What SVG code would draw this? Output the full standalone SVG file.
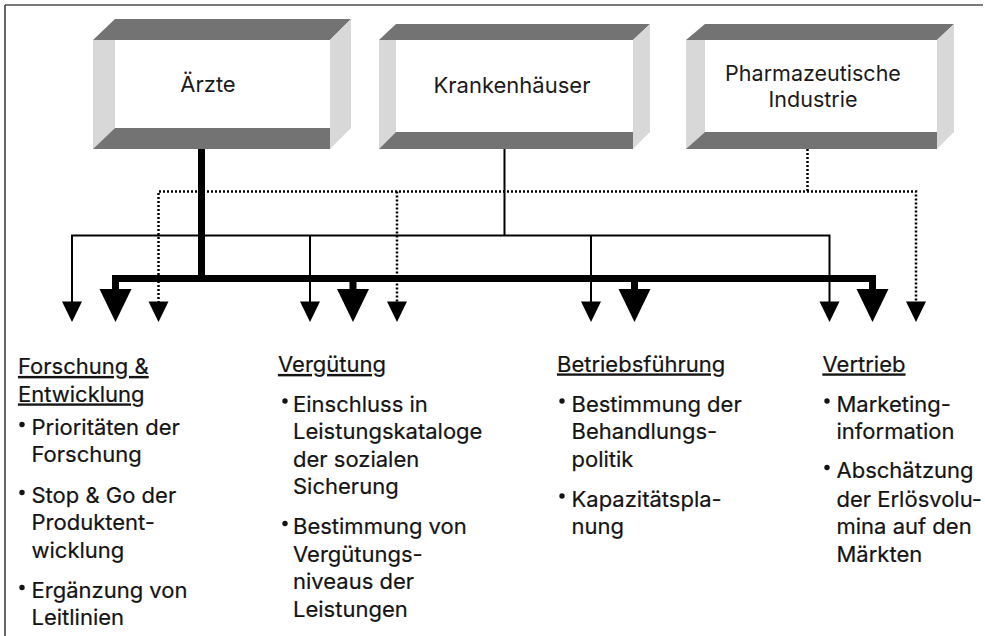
<svg xmlns="http://www.w3.org/2000/svg" width="985" height="636" viewBox="0 0 985 636">
  <style>
    .dark { fill: #737373; }
    .light { fill: #d8d8d8; }
    .face { fill: #ffffff; }
    .box-label { font-family: Inter, "Open Sans", "DejaVu Sans", sans-serif; font-size: 22px; fill: #1a1a1a; text-anchor: middle; }
    .txt { font-family: Inter, "Open Sans", "DejaVu Sans", sans-serif; font-size: 22px; fill: #141414; stroke: #141414; stroke-width: 0.2; }
    .head { text-decoration: underline; }
    .dot { fill: #141414; }
    .thick { stroke: #000; stroke-width: 7; fill: none; }
    .thin { stroke: #000; stroke-width: 2; fill: none; }
    .dotted { stroke: #000; stroke-width: 2.5; fill: none; stroke-dasharray: 2 2; }
    .tip { fill: #000; }
  </style>

  <!-- frame -->
  <line x1="5" y1="5" x2="983" y2="5" stroke="#7a7a7a" stroke-width="1.8"/>
  <line x1="5" y1="5" x2="5" y2="636" stroke="#333" stroke-width="1.5"/>

  <!-- source boxes -->
  <g id="aerzte">
    <polygon class="dark" points="93,40 115,19 351,19 330,40"/>
    <polygon class="light" points="93,40 115,40 115,128 93,149"/>
    <polygon class="dark" points="93,149 115,128 330,128 330,149"/>
    <polygon class="light" points="330,40 351,19 351,128 330,149"/>
    <rect class="face" x="115" y="40" width="215" height="88"/>
    <text class="box-label" x="208" y="92">Ärzte</text>
  </g>
  <g id="krankenhaeuser">
    <polygon class="dark" points="379,40 396,24 650,24 633,40"/>
    <polygon class="light" points="379,40 396,40 396,132 379,149"/>
    <polygon class="dark" points="379,149 396,132 633,132 633,149"/>
    <polygon class="light" points="633,40 650,24 650,132 633,149"/>
    <rect class="face" x="396" y="40" width="237" height="92"/>
    <text class="box-label" x="512" y="93">Krankenhäuser</text>
  </g>
  <g id="pharma">
    <polygon class="dark" points="686,40 705,24 954,24 937,40"/>
    <polygon class="light" points="686,40 705,40 705,132 686,149"/>
    <polygon class="dark" points="686,149 705,132 937,132 937,149"/>
    <polygon class="light" points="937,40 954,24 954,132 937,149"/>
    <rect class="face" x="705" y="40" width="232" height="92"/>
    <text class="box-label" x="813" y="80.5" style="font-size:21.5px">Pharmazeutische<tspan x="813" dy="26">Industrie</tspan></text>
  </g>

  <!-- connectors -->
  <g id="connectors">
    <!-- Pharmazeutische Industrie (dotted) -->
    <path class="dotted" d="M807.5,149 V191.5 M158.5,303 V191.5 H916 V303 M397,191.5 V303"/>
    <polygon class="tip" points="148.5,301.5 168.5,301.5 158.5,322"/>
    <polygon class="tip" points="387,301.5 407,301.5 397,322"/>
    <polygon class="tip" points="906,301.5 926,301.5 916,322"/>
    <!-- Krankenhäuser (thin) -->
    <path class="thin" d="M504.5,149 V235.5 M72,303 V235.5 H829.5 V303 M310,235.5 V303 M591,235.5 V303"/>
    <polygon class="tip" points="62,301.5 82,301.5 72,322"/>
    <polygon class="tip" points="300,301.5 320,301.5 310,322"/>
    <polygon class="tip" points="581,301.5 601,301.5 591,322"/>
    <polygon class="tip" points="819.5,301.5 839.5,301.5 829.5,322"/>
    <!-- Ärzte (thick) -->
    <path class="thick" d="M201.5,149 V278.5 M115.5,292 V278.5 H872.5 V292 M353,278.5 V292 M634.5,278.5 V292"/>
    <polygon class="tip" points="99.5,289 131.5,289 115.5,322"/>
    <polygon class="tip" points="337,289 369,289 353,322"/>
    <polygon class="tip" points="618.5,289 650.5,289 634.5,322"/>
    <polygon class="tip" points="856.5,289 888.5,289 872.5,322"/>
  </g>

  <!-- target fields -->
  <g id="forschung">
    <text class="txt head" x="18" y="374">Forschung &amp;<tspan x="18" dy="27.5">Entwicklung</tspan></text>
    <circle class="dot" cx="22" cy="424.5" r="2.7"/>
    <text class="txt" x="31.5" y="435">Prioritäten der<tspan x="31.5" dy="27">Forschung</tspan></text>
    <circle class="dot" cx="22" cy="492.5" r="2.7"/>
    <text class="txt" x="31.5" y="503">Stop &amp; Go der<tspan x="31.5" dy="27">Produktent-</tspan><tspan x="31.5" dy="27.5">wicklung</tspan></text>
    <circle class="dot" cx="22" cy="587.5" r="2.7"/>
    <text class="txt" x="31.5" y="598">Ergänzung von<tspan x="31.5" dy="27">Leitlinien</tspan></text>
  </g>
  <g id="verguetung">
    <text class="txt head" x="278" y="372">Vergütung</text>
    <circle class="dot" cx="285" cy="401" r="2.7"/>
    <text class="txt" x="293" y="411.5">Einschluss in<tspan x="293" dy="27.5">Leistungskataloge</tspan><tspan x="293" dy="27.5">der sozialen</tspan><tspan x="293" dy="27.5">Sicherung</tspan></text>
    <circle class="dot" cx="285" cy="523.5" r="2.7"/>
    <text class="txt" x="293" y="534">Bestimmung von<tspan x="293" dy="27.5">Vergütungs-</tspan><tspan x="293" dy="27.5">niveaus der</tspan><tspan x="293" dy="28">Leistungen</tspan></text>
  </g>
  <g id="betriebsfuehrung">
    <text class="txt head" x="557" y="371.5">Betriebsführung</text>
    <circle class="dot" cx="562" cy="401" r="2.7"/>
    <text class="txt" x="571.5" y="411.5">Bestimmung der<tspan x="571.5" dy="27.5">Behandlungs-</tspan><tspan x="571.5" dy="27.5">politik</tspan></text>
    <circle class="dot" cx="562" cy="496" r="2.7"/>
    <text class="txt" x="571.5" y="506.5">Kapazitätspla-<tspan x="571.5" dy="27.5">nung</tspan></text>
  </g>
  <g id="vertrieb">
    <text class="txt head" x="822.5" y="371.5">Vertrieb</text>
    <circle class="dot" cx="827" cy="401" r="2.7"/>
    <text class="txt" x="836.5" y="411.5">Marketing-<tspan x="836.5" dy="27.5">information</tspan></text>
    <circle class="dot" cx="827" cy="467.5" r="2.7"/>
    <text class="txt" x="836.5" y="478">Abschätzung<tspan x="836.5" dy="28.5">der Erlösvolu-</tspan><tspan x="836.5" dy="27.5">mina auf den</tspan><tspan x="836.5" dy="27.5">Märkten</tspan></text>
  </g>
</svg>
